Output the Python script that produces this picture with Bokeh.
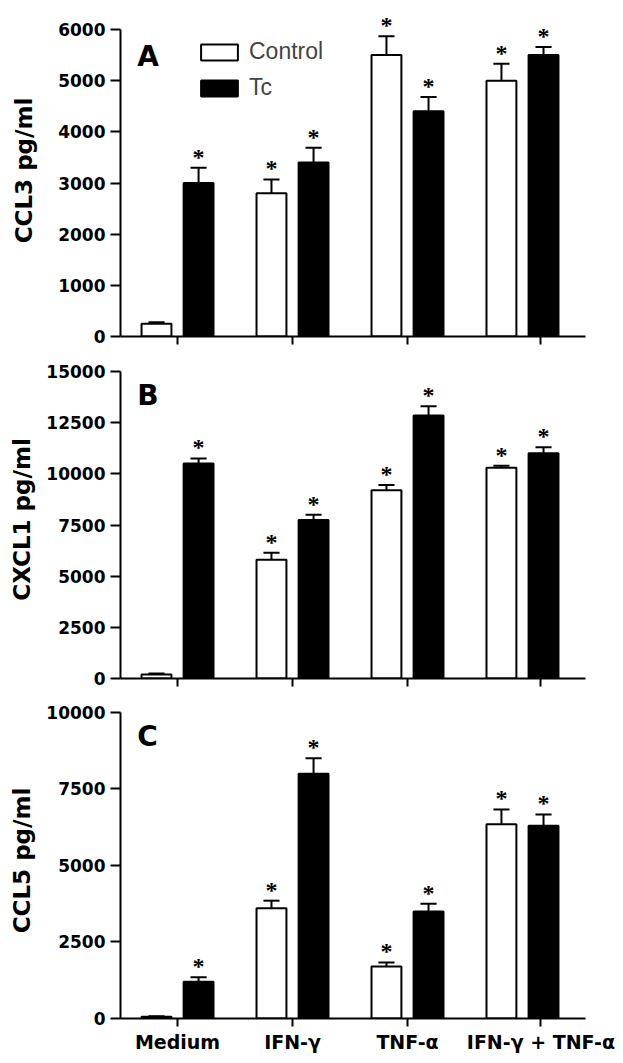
from bokeh.plotting import figure
from bokeh.layouts import column
from bokeh.models import (FixedTicker, Range1d, Legend, LegendItem, Label, LabelSet, ColumnDataSource)
from bokeh.embed import file_html
from bokeh.resources import INLINE

# ---------------- data ----------------
categories = ["Medium", "IFN-\u03b3", "TNF-\u03b1", "IFN-\u03b3 + TNF-\u03b1"]
series_names = ["Control", "Tc"]

ccl3_control = [250, 2800, 5500, 5000]
ccl3_control_err = [30, 270, 370, 330]
ccl3_tc = [3000, 3400, 4400, 5500]
ccl3_tc_err = [300, 290, 280, 160]

cxcl1_control = [200, 5800, 9200, 10300]
cxcl1_control_err = [50, 350, 250, 100]
cxcl1_tc = [10500, 7750, 12850, 11000]
cxcl1_tc_err = [250, 250, 450, 300]

ccl5_control = [60, 3600, 1700, 6350]
ccl5_control_err = [10, 250, 130, 480]
ccl5_tc = [1200, 8000, 3500, 6300]
ccl5_tc_err = [150, 500, 250, 370]

control_sig = [False, True, True, True]
tc_sig = [True, True, True, True]

ccl3_ticks = [0, 1000, 2000, 3000, 4000, 5000, 6000]
cxcl1_ticks = [0, 2500, 5000, 7500, 10000, 12500, 15000]
ccl5_ticks = [0, 2500, 5000, 7500, 10000]

# ---------------- style ----------------
FONT = "DejaVu Sans"
W = 623
FRAME_H = 307
OFF = 0.183      # bar offset from group centre
BW = 0.26        # bar width
CAP = 0.07       # half cap width
group_x = [0, 1, 2, 3]
tick_x = [0, 1, 2, 3.16]


def make_panel(letter, ylabel, ctrl, ctrl_err, tc, tc_err, yticks, letter_y,
               top_border, bottom_border, show_x_labels, label_standoff, legend=False):
    # let the frame reach a little above the top tick so that stars are not clipped
    extra = top_border - 4
    h = top_border + FRAME_H + bottom_border
    ytop = yticks[-1] * (1 + extra / FRAME_H)
    p = figure(width=W, height=h, output_backend="svg", toolbar_location=None,
               x_range=Range1d(-0.496, 3.548), y_range=Range1d(0, ytop),
               min_border_left=120, min_border_right=38,
               min_border_top=top_border - extra, min_border_bottom=bottom_border)
    p.outline_line_color = None
    p.xgrid.visible = False
    p.ygrid.visible = False
    p.background_fill_color = "white"

    xc = [g - OFF for g in group_x]
    xt = [g + OFF for g in group_x]
    src_c = ColumnDataSource(dict(x=xc, top=ctrl, err_top=[v + e for v, e in zip(ctrl, ctrl_err)]))
    src_t = ColumnDataSource(dict(x=xt, top=tc, err_top=[v + e for v, e in zip(tc, tc_err)]))

    # error bars (upper only)
    for src in (src_c, src_t):
        d = src.data
        p.segment(x0=d["x"], y0=d["top"], x1=d["x"], y1=d["err_top"], line_color="black", line_width=2)
        p.segment(x0=[x - CAP for x in d["x"]], y0=d["err_top"],
                  x1=[x + CAP for x in d["x"]], y1=d["err_top"], line_color="black", line_width=2)

    rc = p.vbar(x="x", top="top", width=BW, bottom=0, source=src_c,
                fill_color="white", line_color="black", line_width=2)
    rt = p.vbar(x="x", top="top", width=BW, bottom=0, source=src_t,
                fill_color="black", line_color="black", line_width=2)

    # significance stars
    sx, sy = [], []
    for x, top, s in zip(xc, src_c.data["err_top"], control_sig):
        if s:
            sx.append(x); sy.append(top)
    for x, top, s in zip(xt, src_t.data["err_top"], tc_sig):
        if s:
            sx.append(x); sy.append(top)
    star_src = ColumnDataSource(dict(x=sx, y=sy, t=["*"] * len(sx)))
    p.add_layout(LabelSet(x="x", y="y", text="t", source=star_src, text_align="center",
                          text_baseline="alphabetic", y_offset=3, text_font=FONT,
                          text_font_style="bold", text_font_size="24px", text_color="black"))

    # axes
    p.yaxis.ticker = FixedTicker(ticks=yticks)
    p.yaxis.bounds = (0, yticks[-1])
    p.yaxis.axis_label = ylabel
    p.yaxis.axis_label_text_font = FONT
    p.yaxis.axis_label_text_font_style = "bold"
    p.yaxis.axis_label_text_font_size = "23px"
    p.yaxis.axis_label_standoff = label_standoff
    p.yaxis.major_label_text_font = FONT
    p.yaxis.major_label_text_font_style = "bold"
    p.yaxis.major_label_text_font_size = "17px"
    p.yaxis.major_label_standoff = 5
    p.yaxis.major_tick_out = 10
    p.yaxis.major_tick_in = 0
    p.yaxis.minor_tick_line_color = None
    p.yaxis.axis_line_width = 2
    p.yaxis.major_tick_line_width = 2

    p.xaxis.ticker = FixedTicker(ticks=tick_x)
    p.xaxis.major_tick_out = 8
    p.xaxis.major_tick_in = 0
    p.xaxis.minor_tick_line_color = None
    p.xaxis.axis_line_width = 2
    p.xaxis.major_tick_line_width = 2
    p.xaxis.major_label_text_font = FONT
    p.xaxis.major_label_text_font_style = "bold"
    if show_x_labels:
        p.xaxis.major_label_overrides = {t: c for t, c in zip(tick_x, categories)}
        p.xaxis.major_label_text_font_size = "19px"
        p.xaxis.major_label_standoff = 4
    else:
        p.xaxis.major_label_overrides = {t: "" for t in tick_x}
        p.xaxis.major_label_text_font_size = "10px"
        p.xaxis.major_label_standoff = 0

    for ax in (p.xaxis[0], p.yaxis[0]):
        ax.axis_line_color = "black"
        ax.major_tick_line_color = "black"
        ax.major_label_text_color = "black"
        ax.axis_label_text_color = "black"

    p.add_layout(Label(x=-0.35, y=letter_y, text=letter, text_font=FONT, text_font_style="bold",
                       text_font_size="28px", text_baseline="alphabetic", text_color="black"))

    if legend:
        lg = Legend(items=[LegendItem(label=series_names[0], renderers=[rc]),
                           LegendItem(label=series_names[1], renderers=[rt])],
                    location=(76, 235), glyph_width=46, glyph_height=20, label_height=20,
                    spacing=9, padding=0, margin=0, label_standoff=7,
                    label_text_font="Liberation Sans", label_text_font_size="23px",
                    border_line_color=None, background_fill_alpha=0)
        p.add_layout(lg, "center")
    return p


pa = make_panel("A", "CCL3 pg/ml", ccl3_control, ccl3_control_err, ccl3_tc, ccl3_tc_err,
                ccl3_ticks, 5470, 29, 20, False, 18, legend=True)
pb = make_panel("B", "CXCL1 pg/ml", cxcl1_control, cxcl1_control_err, cxcl1_tc, cxcl1_tc_err,
                cxcl1_ticks, 13830, 15, 20, False, 8)
pc = make_panel("C", "CCL5 pg/ml", ccl5_control, ccl5_control_err, ccl5_tc, ccl5_tc_err,
                ccl5_ticks, 9210, 14, 36, True, 8)

layout = column(pa, pb, pc, spacing=0)
open("out.html", "w").write(file_html(layout, INLINE))
